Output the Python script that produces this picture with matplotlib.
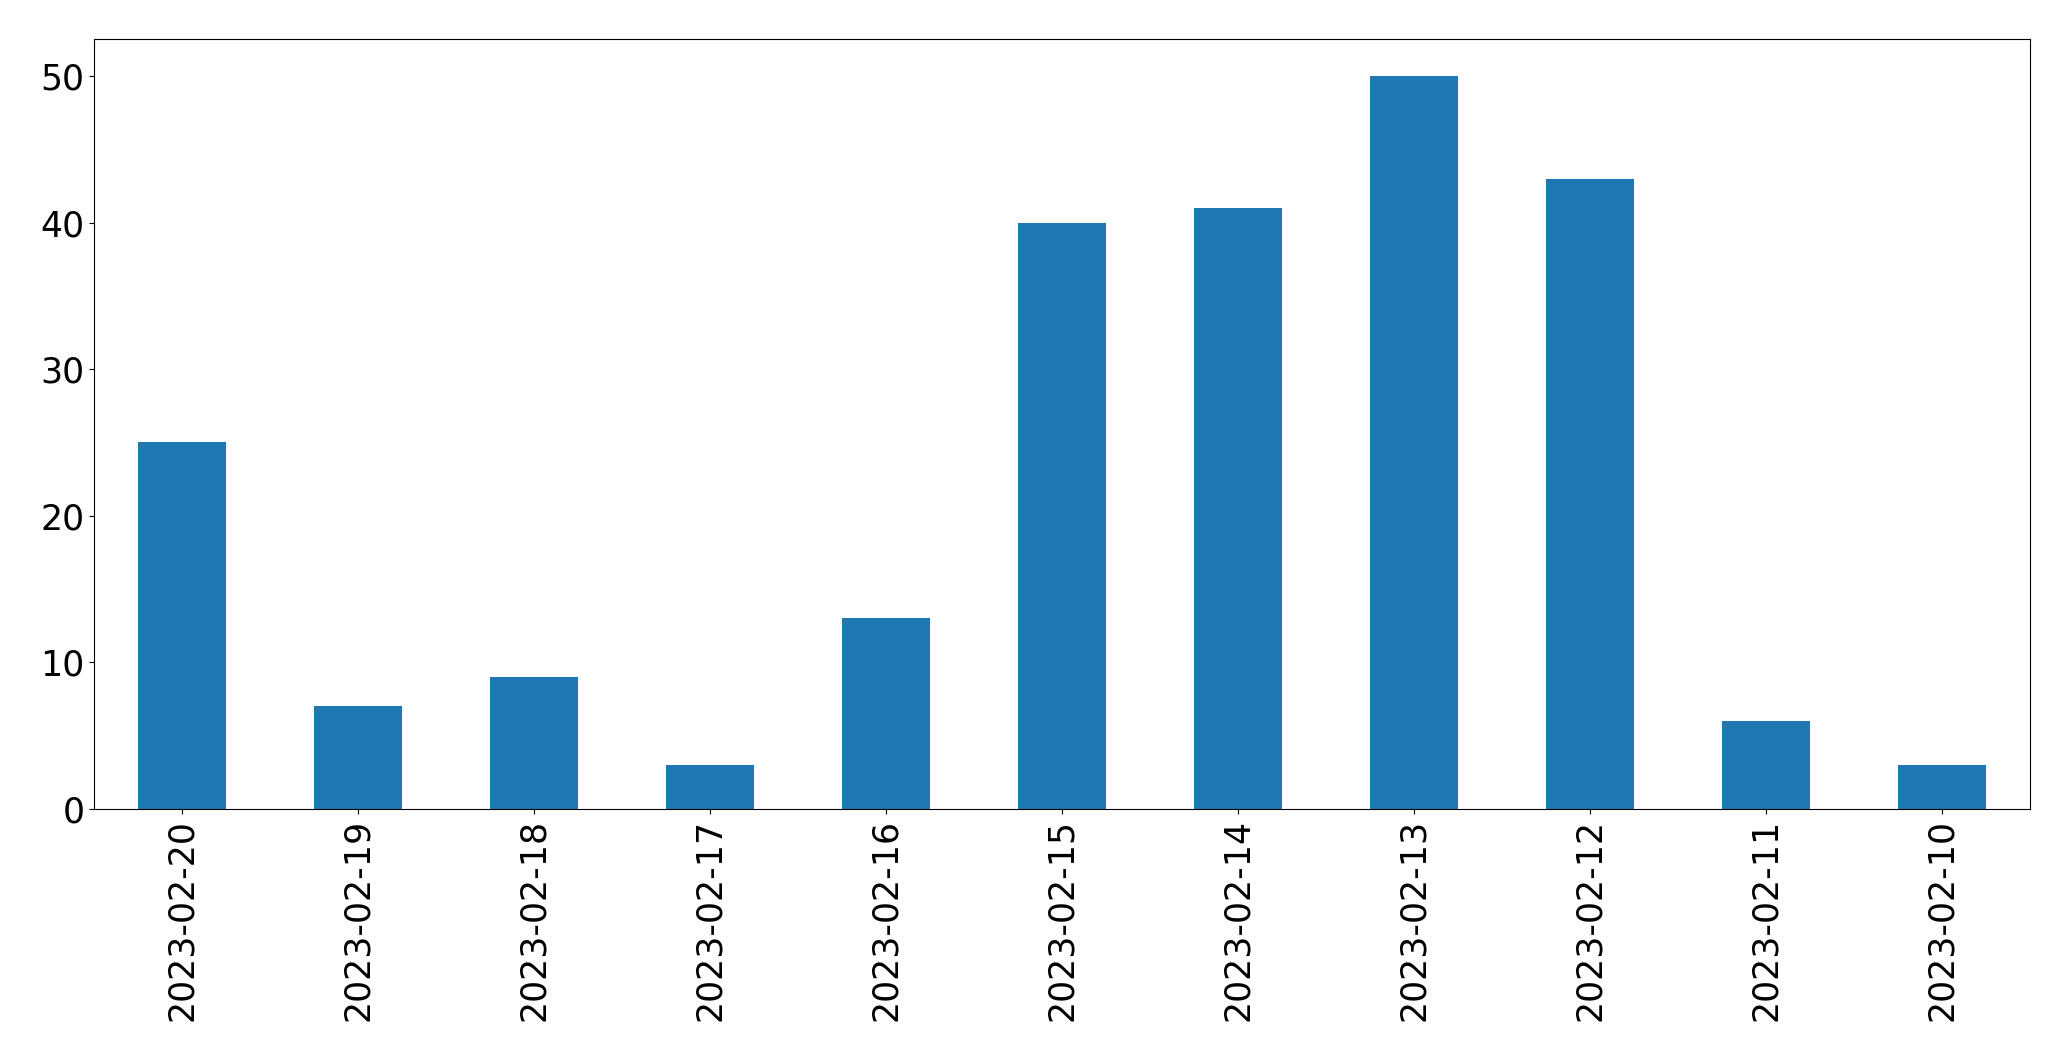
import pandas as pd
import matplotlib
matplotlib.use("Agg")
import matplotlib.pyplot as plt

# daily counts, as shown in the reference (newest first)
dates = ["2023-02-20", "2023-02-19", "2023-02-18", "2023-02-17", "2023-02-16",
         "2023-02-15", "2023-02-14", "2023-02-13", "2023-02-12", "2023-02-11",
         "2023-02-10"]
counts = [25, 7, 9, 3, 13, 40, 41, 50, 43, 6, 3]

s = pd.Series(counts, index=dates)

fig, ax = plt.subplots(figsize=(20.71, 10.61), dpi=100)
s.plot(kind="bar", ax=ax, color="#1f77b4", fontsize=25)
ax.tick_params(axis="x", labelrotation=90)
fig.subplots_adjust(left=0.0454, right=0.980, bottom=0.2375, top=0.963)
fig.savefig("out.png", dpi=100)
